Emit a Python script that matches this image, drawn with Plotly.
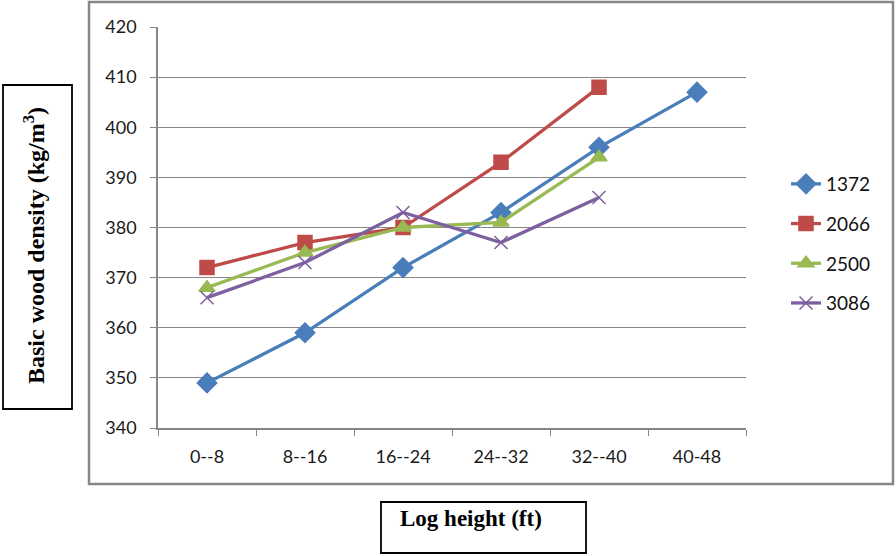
import plotly.graph_objects as go

categories = ["0--8", "8--16", "16--24", "24--32", "32--40", "40-48"]
series_names = ["1372", "2066", "2500", "3086"]
s1372 = [349, 359, 372, 383, 396, 407]
s2066 = [372, 377, 380, 393, 408, None]
s2500 = [368, 375, 380, 381, 394, None]
s3086 = [366, 373, 383, 377, 386, None]
y_ticks = [340, 350, 360, 370, 380, 390, 400, 410, 420]

colors = ["#4A7EBB", "#BE4B48", "#98B954", "#7D60A0"]
symbols = ["diamond", "square", "triangle-up", "x-thin"]
sizes = [15, 14, 14, 13]

W, H = 896, 556
L, R, T, B = 158, 746, 27, 428

def px(x):
    return (x - L) / (R - L)

def py(y):
    return (B - y) / (B - T)

fig = go.Figure()
for i, (name, vals) in enumerate(zip(series_names, [s1372, s2066, s2500, s3086])):
    fig.add_trace(go.Scatter(
        x=categories, y=vals, name=name, mode="lines+markers",
        legendgroup=name,
        line=dict(color=colors[i], width=3.3),
        marker=dict(symbol=symbols[i], size=sizes[i], color=colors[i],
                    line=dict(color=colors[i], width=1.5)),
        connectgaps=False,
    ))

fig.update_layout(
    width=W, height=H,
    margin=dict(l=L, r=W - R, t=T, b=H - B),
    paper_bgcolor="white", plot_bgcolor="white",
    font=dict(family="Lato, Open Sans, sans-serif", size=18, color="#1a1a1a"),
    showlegend=True,
    legend=dict(x=px(786), y=py(165), xanchor="left", yanchor="top",
                font=dict(size=19, color="#111111"), tracegroupgap=12,
                bgcolor="rgba(0,0,0,0)"),
    xaxis=dict(type="category", categoryorder="array", categoryarray=categories,
               range=[-0.5, 5.5], showgrid=False, showline=True,
               linecolor="#868686", linewidth=1.5, ticks="outside",
               tickson="boundaries", ticklen=6, tickcolor="#868686",
               tickfont=dict(size=18), ticklabelstandoff=12, zeroline=False),
    yaxis=dict(range=[340, 420], tickvals=y_ticks, showgrid=True,
               gridcolor="#868686", gridwidth=1.3, showline=True,
               linecolor="#868686", linewidth=1.5, ticks="outside",
               ticklen=6, tickcolor="#868686", tickfont=dict(size=18),
               ticklabelstandoff=10, zeroline=False),
)

# outer chart border
fig.add_shape(type="rect", xref="paper", yref="paper",
              x0=px(89), x1=px(893), y0=py(484), y1=py(2),
              line=dict(color="#878787", width=2.5), layer="below")
# y-title box
fig.add_shape(type="rect", xref="paper", yref="paper",
              x0=px(3), x1=px(72), y0=py(409), y1=py(85),
              line=dict(color="black", width=1.8))
# x-title box
fig.add_shape(type="rect", xref="paper", yref="paper",
              x0=px(381), x1=px(586), y0=py(553), y1=py(502),
              line=dict(color="black", width=1.8))

fig.add_annotation(xref="paper", yref="paper", x=px(17), y=py(246),
                   text="<b>Basic wood density (kg/m<sup>3</sup>)</b>",
                   textangle=-90, showarrow=False,
                   font=dict(family="Liberation Serif, Times New Roman, serif",
                             size=24, color="black"))
fig.add_annotation(xref="paper", yref="paper", x=px(471), y=py(533),
                   text="<b>Log height (ft)</b>", showarrow=False,
                   font=dict(family="Liberation Serif, Times New Roman, serif",
                             size=23, color="black"))

fig.write_html("out.html", config={"displayModeBar": False},
               post_script="document.body.style.margin='0';document.body.style.padding='0';")
